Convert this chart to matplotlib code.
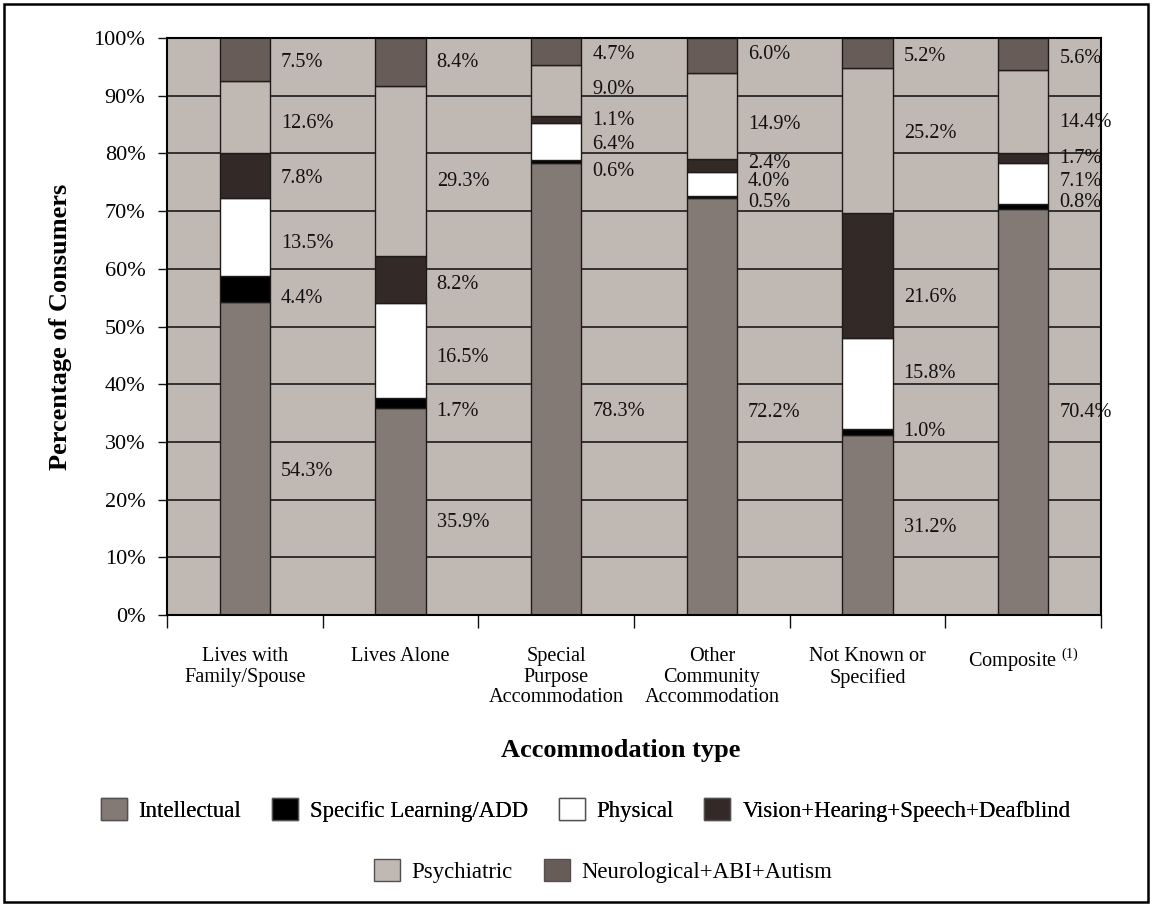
import matplotlib
matplotlib.use("Agg")
import matplotlib.pyplot as plt
import numpy as np
from matplotlib.patches import Rectangle, Patch

plt.rcParams['font.family'] = ['Liberation Serif', 'DejaVu Serif']
plt.rcParams['mathtext.fontset'] = 'custom'
plt.rcParams['mathtext.rm'] = 'Liberation Serif'

categories = ["Lives with\nFamily/Spouse", "Lives Alone", "Special\nPurpose\nAccommodation",
              "Other\nCommunity\nAccommodation", "Not Known or\nSpecified", "Composite $^{\\mathrm{(1)}}$"]
series_names = ["Intellectual", "Specific Learning/ADD", "Physical",
                "Vision+Hearing+Speech+Deafblind", "Psychiatric", "Neurological+ABI+Autism"]
intellectual = [54.3, 35.9, 78.3, 72.2, 31.2, 70.4]
learning = [4.4, 1.7, 0.6, 0.5, 1.0, 0.8]
physical = [13.5, 16.5, 6.4, 4.0, 15.8, 7.1]
vision = [7.8, 8.2, 1.1, 2.4, 21.6, 1.7]
psychiatric = [12.6, 29.3, 9.0, 14.9, 25.2, 14.4]
neurological = [7.5, 8.4, 4.7, 6.0, 5.2, 5.6]
yticks = [0, 10, 20, 30, 40, 50, 60, 70, 80, 90, 100]

# label nudges (percentage points) relative to segment centres, per category, per series
label_nudge = [
    [-2.2, -1.7, -1.0, -0.4, -1.2, -0.6],
    [-2.0, -1.4, -1.2, -0.9, -1.8, 0.0],
    [-3.8, -1.8, -0.6, -0.2, 0.1, -0.6],
    [-1.0, -0.95, 0.4, 0.4, -1.6, 0.1],
    [-0.4, 0.1, 1.8, -3.7, 1.3, -0.6],
    [-0.1, 0.7, 0.45, -0.05, -1.8, -0.7],
]

colors = ["#847A75", "#000000", "#FFFFFF", "#332A28", "#C0B8B3", "#675C58"]
series = [intellectual, learning, physical, vision, psychiatric, neurological]

fig = plt.figure(figsize=(11.52, 9.06), dpi=100)
ax = fig.add_axes([167/1152, 1-615/906, (1101-167)/1152, (615-38)/906])
ax.set_facecolor(colors[4])

n = len(categories)
x = np.arange(n) + 0.5
width = 0.325
bottom = np.zeros(n)
for vals, col in zip(series, colors):
    v = np.array(vals)
    ax.bar(x, v, width, bottom=bottom, color=col, edgecolor="#1e1a19", linewidth=1.0, zorder=3)
    bottom += v

# data labels
cum = np.zeros(n)
for si, vals in enumerate(series):
    v = np.array(vals)
    centers = cum + v / 2
    for ci in range(n):
        ax.text(x[ci] + width/2 + 0.07, centers[ci] + label_nudge[ci][si], f"{vals[ci]:.1f}%",
                ha="left", va="center", fontsize=14.6, color="#111111", zorder=4)
    cum += v

ax.set_xlim(0, n)
ax.set_ylim(0, 100)
ax.set_yticks(yticks)
ax.set_yticklabels([f"{t}%" for t in yticks], fontsize=16)
ax.yaxis.grid(True, color="#1a1a1a", linewidth=1.2, zorder=1)
ax.set_axisbelow(True)
ax.tick_params(axis="y", direction="out", length=6.5, width=1.0, pad=9, color="#111111")

ax.set_xticks(np.arange(n + 1))
ax.set_xticklabels([])
ax.tick_params(axis="x", which="major", direction="out", length=9.5, width=1.0, color="#111111")
ax.set_xticks(x, minor=True)
ax.set_xticklabels(categories, minor=True, fontsize=14.6, linespacing=1.12, va="top")
ax.tick_params(axis="x", which="minor", length=0, pad=23)

for s in ax.spines.values():
    s.set_color("#000000")
    s.set_linewidth(1.5)
    s.set_zorder(5)

fig.text(61/1152, 1-327/906, "Percentage of Consumers", rotation=90, ha="center", va="center",
         fontsize=19, fontweight="bold")
fig.text(621/1152, 1-750/906, "Accommodation type", ha="center", va="center",
         fontsize=19, fontweight="bold")

handles = [Patch(facecolor=c, edgecolor="#555050", linewidth=1.0) for c in colors]
leg_kw = dict(frameon=False, fontsize=16.4, handlelength=1.14, handleheight=1.1,
              handletextpad=0.52, columnspacing=1.35, borderpad=0, loc="center")
leg1 = fig.legend(handles[:4], series_names[:4], ncol=4,
                  bbox_to_anchor=(585.5/1152, 1-810/906), **leg_kw)
fig.add_artist(leg1)
leg2 = fig.legend(handles[4:], series_names[4:], ncol=2,
                  bbox_to_anchor=(603/1152, 1-871/906), **leg_kw)

fig.add_artist(Rectangle((4/1152, 4/906), 1-8/1152, 1-8/906, transform=fig.transFigure,
                         fill=False, edgecolor="#000000", linewidth=1.8))

fig.savefig("out.png", dpi=100, facecolor="white")
